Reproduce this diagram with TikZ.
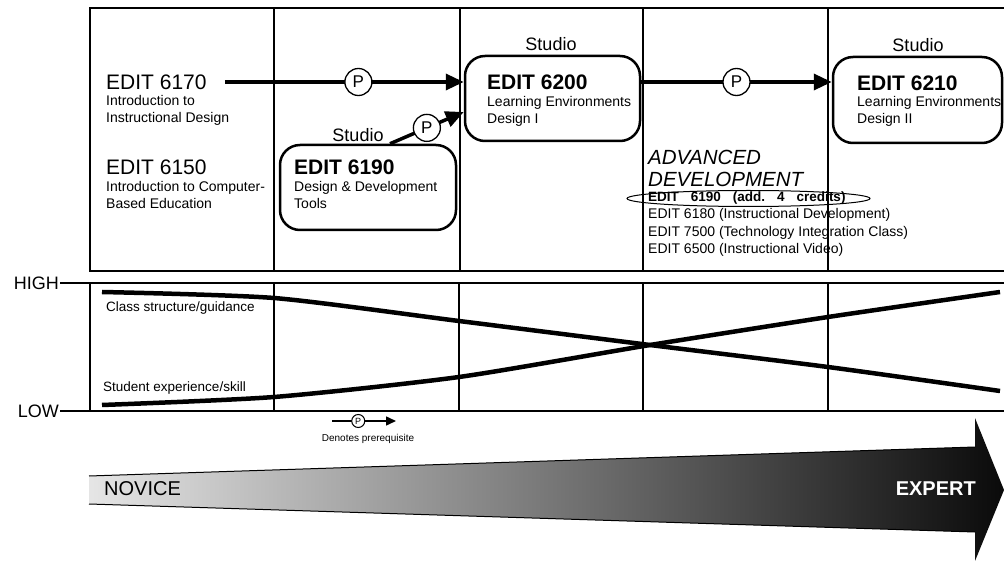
\documentclass[tikz,border=0pt]{standalone}
\usepackage{fontspec}
\setmainfont{Liberation Sans}
\usetikzlibrary{arrows.meta,shapes.geometric}
\begin{document}
\begin{tikzpicture}[x=1pt,y=-1pt,
  frame/.style={line width=1.3pt},
  axis/.style={line width=1.6pt},
  cbox/.style={draw, line width=2.5pt, rounded corners=20pt, inner sep=0},
  big/.style={inner sep=0, anchor=west, font=\fontsize{21}{24}\selectfont},
  bigb/.style={inner sep=0, anchor=west, font=\fontsize{21}{24}\selectfont\bfseries},
  sub/.style={inner sep=0, anchor=west, align=left, font=\fontsize{14}{17}\selectfont},
  studio/.style={inner sep=0, font=\fontsize{18}{20}\selectfont},
  pnode/.style={circle, draw, fill=white, line width=1.3pt, inner sep=0, minimum size=27pt, font=\fontsize{17}{17}\selectfont},
  psmall/.style={circle, draw, fill=white, line width=1pt, inner sep=0, minimum size=13pt, font=\fontsize{9}{9}\selectfont},
  prq/.style={line width=3.5pt, -{Triangle[length=18pt,width=16pt]}},
  curve/.style={line width=4.5pt},
  lvl/.style={inner sep=0, anchor=east, font=\fontsize{18}{20}\selectfont},
  lab/.style={inner sep=0, anchor=west, font=\fontsize{13.5}{16}\selectfont},
  lst/.style={inner sep=0, anchor=west, font=\fontsize{14}{17}\selectfont}
]
\useasboundingbox (0,0) rectangle (1004,561);

% ---------- top frame ----------
\draw[frame] (1004,8) -- (90,8) -- (90,271) -- (1004,271);
\foreach \x in {274,460,643,828} \draw[frame] (\x,8) -- (\x,271);

% ---------- left courses ----------
\node[big] (t6170) at (106,82) {EDIT 6170};
\node[sub] (d6170) at (106,110.5) {Introduction to\\Instructional Design};
\node[big] (t6150) at (106,167) {EDIT 6150};
\node[sub] (d6150) at (106,195) {Introduction to Computer-\\Based Education};

% ---------- boxes ----------
\node[cbox, minimum width=176pt, minimum height=85pt] (b6190) at (368,187.5) {};
\node[studio] (s6190) at (358,135) {Studio};
\node[bigb] (t6190) at (294,167) {EDIT 6190};
\node[sub] (d6190) at (294,195) {Design \& Development\\Tools};

\node[cbox, minimum width=175pt, minimum height=85pt] (b6200) at (552.5,98.5) {};
\node[studio] (s6200) at (551,44) {Studio};
\node[bigb] (t6200) at (487,82) {EDIT 6200};
\node[sub] (d6200) at (487,111.5) {Learning Environments\\Design I};

\node[cbox, minimum width=169pt, minimum height=86pt] (b6210) at (917.5,100) {};
\node[studio] (s6210) at (918,45) {Studio};
\node[bigb] (t6210) at (857,83) {EDIT 6210};
\node[sub] (d6210) at (857,111.5) {Learning Environments\\Design II};

% ---------- prerequisite arrows ----------
\draw[prq, shorten <=18pt] (t6170.east) -- node[pnode, pos=0.59] (p1) {P} (b6200.west |- t6170.east);
\draw[prq] ([xshift=22pt]b6190.north) -- node[pnode, pos=0.5] (p2) {P} ([yshift=-13.5pt]b6200.west);
\draw[prq] (b6200.east |- t6200.center) -- node[pnode, pos=0.5] (p3) {P} (b6210.west |- t6200.center);

% ---------- advanced development ----------
\node[inner sep=0, anchor=west, align=left, font=\fontsize{20.5}{22}\selectfont\itshape] (adv) at (648,168) {ADVANCED\\DEVELOPMENT};
\node[draw, ellipse, line width=1pt, minimum width=243pt, minimum height=16pt, inner sep=0] (ell) at (748.5,198.5) {};
\node[lst, font=\fontsize{13.5}{17}\selectfont\bfseries] (l1) at (648,198.5) {EDIT\hspace{12pt}6190\hspace{12pt}(add.\hspace{12pt}4\hspace{12pt}credits)};
\node[lst] (l2) at (648,215) {EDIT 6180 (Instructional Development)};
\node[lst] (l3) at (648,233) {EDIT 7500 (Technology Integration Class)};
\node[lst] (l4) at (648,250) {EDIT 6500 (Instructional Video)};

% ---------- HIGH / LOW graph ----------
\draw[axis] (60,283) -- (1004,283);
\draw[axis] (60,411) -- (1004,411);
\draw[frame] (90,283) -- (90,411);
\foreach \x in {274,459,643,828} \draw[frame] (\x,283) -- (\x,411);
\node[lvl] (high) at (59,283) {HIGH};
\node[lvl] (low) at (59,411) {LOW};
\draw[curve] plot[smooth, tension=0.4] coordinates {(102,292) (274,298) (459,321) (650,345) (828,367) (1000,391)};
\draw[curve] plot[smooth, tension=0.4] coordinates {(102,405) (274,397) (459,377) (650,345) (828,317) (1000,292)};
\node[lab] (cs) at (106,308) {Class structure/guidance};
\node[lab] (se) at (103,388) {Student experience/skill};

% ---------- legend ----------
\coordinate (lg1) at (332,421);
\coordinate (lg2) at (396,421);
\draw[line width=1.5pt, -{Triangle[length=10pt,width=9pt]}] (lg1) -- node[psmall, pos=0.41] (lp) {P} (lg2);
\node[inner sep=0, font=\fontsize{10}{12}\selectfont] (lgt) at (368,439) {Denotes prerequisite};

% ---------- novice -> expert arrow ----------
\shade[left color=black!10, middle color=black!42, right color=black!96]
  (89,476) -- (975,447) -- (975,418) -- (1004,490) -- (975,561) -- (975,532) -- (89,504) -- cycle;
\draw[line width=1pt] (89,476) -- (975,447);
\draw[line width=1pt] (89,504) -- (975,532);
\node[inner sep=0, anchor=west, font=\fontsize{20}{22}\selectfont] (nov) at (104,489) {NOVICE};
\node[inner sep=0, anchor=east, text=white, font=\fontsize{20}{22}\selectfont\bfseries] (exp) at (976,489) {EXPERT};
\end{tikzpicture}
\end{document}
